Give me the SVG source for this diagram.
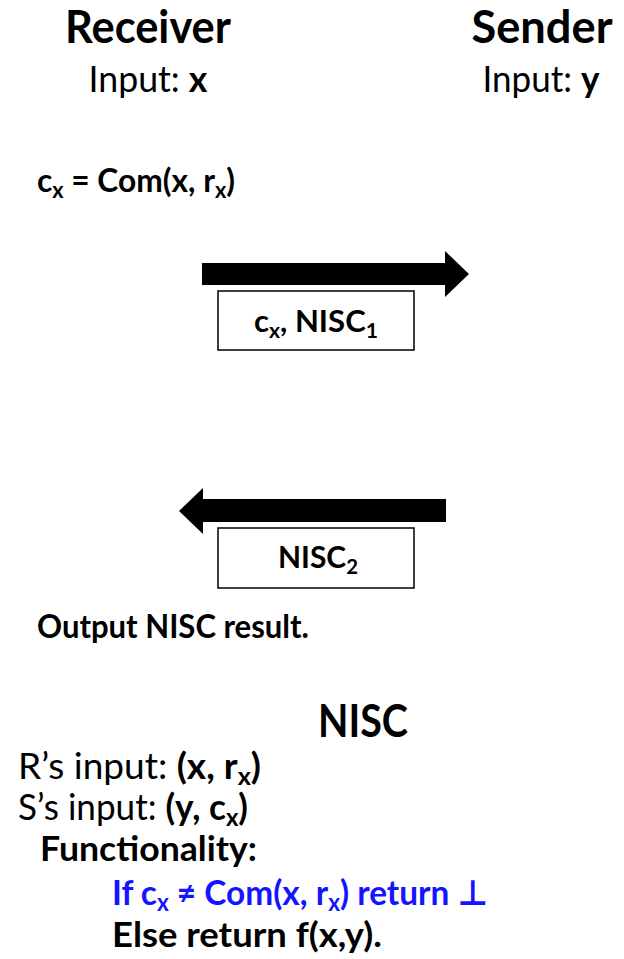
<svg xmlns="http://www.w3.org/2000/svg" width="624" height="959" viewBox="0 0 624 959">
  <style>
    text { font-family: Lato, "Liberation Sans", "DejaVu Sans", sans-serif; fill: #000; }
    .b { font-weight: 700; }
    .head { font-size: 45px; font-weight: 700; }
    .inp { font-size: 36px; }
    .body { font-size: 33px; font-weight: 700; }
    .lbl { font-size: 31px; font-weight: 700; }
    .spec { font-size: 37px; }
    .fn { font-size: 35px; font-weight: 700; }
    .sub { font-size: 0.68em; }
    .blue, .blue tspan { fill: #1414ff; }
    .msg { fill: #fff; stroke: #000; stroke-width: 1.5; }
    .arrow { fill: #000; stroke: none; }
  </style>

  <!-- parties -->
  <g id="receiver">
    <text class="head" x="148" y="43" text-anchor="middle" textLength="166" lengthAdjust="spacingAndGlyphs">Receiver</text>
    <text class="inp" x="148" y="92" text-anchor="middle" textLength="119" lengthAdjust="spacingAndGlyphs">Input: <tspan class="b">x</tspan></text>
  </g>
  <g id="sender">
    <text class="head" x="542" y="43" text-anchor="middle" textLength="141" lengthAdjust="spacingAndGlyphs">Sender</text>
    <text class="inp" x="541" y="92" text-anchor="middle" textLength="117" lengthAdjust="spacingAndGlyphs">Input: <tspan class="b">y</tspan></text>
  </g>

  <!-- receiver commits to its input -->
  <g id="commit">
    <text class="body" x="37" y="192" textLength="198" lengthAdjust="spacingAndGlyphs">c<tspan class="sub" dy="6">x</tspan><tspan dy="-6"> = Com(x, r</tspan><tspan class="sub" dy="6">x</tspan><tspan dy="-6">)</tspan></text>
  </g>

  <!-- message arrows -->
  <g id="connectors">
    <polygon class="arrow" points="202,263 445,263 445,251 469,274 445,297 445,285 202,285"/>
    <polygon class="arrow" points="446,499 203,499 203,488 179,511 203,534 203,522 446,522"/>
  </g>

  <g id="msg1">
    <rect class="msg" x="218" y="291" width="196" height="59"/>
    <text class="lbl" x="254" y="332" textLength="124" lengthAdjust="spacingAndGlyphs">c<tspan class="sub" dy="6">x</tspan><tspan dy="-6">, NISC</tspan><tspan class="sub" dy="6">1</tspan></text>
  </g>

  <g id="msg2">
    <rect class="msg" x="218" y="528" width="196" height="60"/>
    <text class="lbl" x="278" y="568" textLength="80" lengthAdjust="spacingAndGlyphs">NISC<tspan class="sub" dy="6">2</tspan></text>
  </g>

  <g id="output">
    <text class="body" x="37" y="638" textLength="272" lengthAdjust="spacingAndGlyphs">Output NISC result.</text>
  </g>

  <!-- functionality definition -->
  <g id="nisc">
    <text class="head" x="363" y="737" text-anchor="middle" textLength="90" lengthAdjust="spacingAndGlyphs">NISC</text>
    <text class="spec" x="18" y="779" textLength="243" lengthAdjust="spacingAndGlyphs">R’s input: <tspan class="b">(x, r</tspan><tspan class="b sub" dy="6">x</tspan><tspan class="b" dy="-6">)</tspan></text>
    <text class="spec" x="18" y="820" textLength="230" lengthAdjust="spacingAndGlyphs">S’s input: <tspan class="b">(y, c</tspan><tspan class="b sub" dy="6">x</tspan><tspan class="b" dy="-6">)</tspan></text>
    <text class="fn" x="40" y="861" textLength="217" lengthAdjust="spacingAndGlyphs">Functionality:</text>
    <text class="fn blue" x="112" y="905" textLength="376" lengthAdjust="spacingAndGlyphs">If c<tspan class="sub" dy="6">x</tspan><tspan dy="-6"> ≠ Com(x, r</tspan><tspan class="sub" dy="6">x</tspan><tspan dy="-6">) return ⊥</tspan></text>
    <text class="fn" x="112" y="947" textLength="270" lengthAdjust="spacingAndGlyphs">Else return f(x,y).</text>
  </g>
</svg>
